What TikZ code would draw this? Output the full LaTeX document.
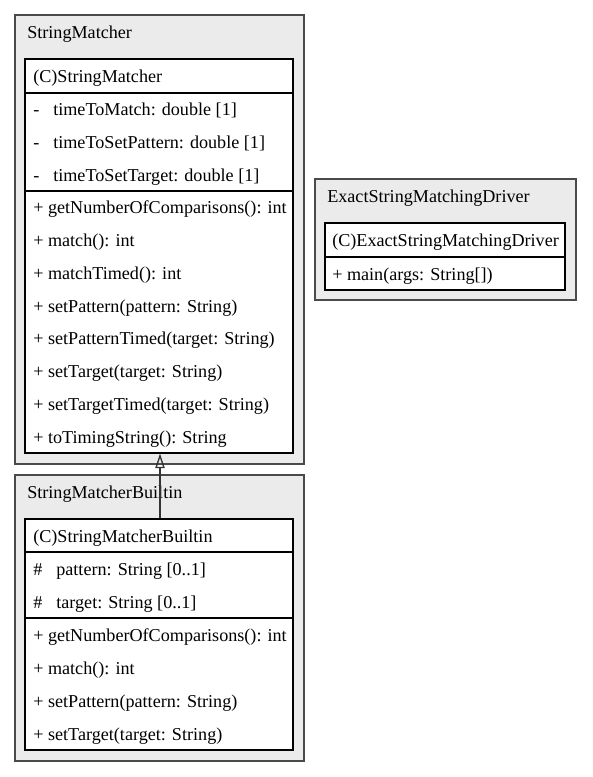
\documentclass[tikz,border=0pt]{standalone}
\usepackage{fontspec}
\setmainfont{Liberation Serif}
\usetikzlibrary{fit,arrows.meta}
\definecolor{clfill}{HTML}{EBEBEB}
\definecolor{clline}{HTML}{4A4A4A}
\definecolor{edgecol}{HTML}{333333}
\tikzset{
  cluster/.style={draw=clline, fill=clfill, line width=1.1pt, inner sep=0pt},
  classbox/.style={draw=black, fill=white, line width=0.8pt, inner sep=0pt},
  sepline/.style={draw=black, line width=0.8pt},
  txt/.style={anchor=base west, inner sep=0pt, font=\fontsize{13.6pt}{16pt}\selectfont},
  inherit/.style={draw=edgecol, line width=1pt, -{Triangle[open, length=11pt, width=7pt]}}
}
\begin{document}
\begin{tikzpicture}[x=0.75pt, y=-0.75pt]
\useasboundingbox (0,0) rectangle (592,777);
% clusters
\node[cluster, fit={(15,15) (304,464)}] (c1) {};
\node[cluster, fit={(15,475) (304,761)}] (c2) {};
\node[cluster, fit={(315,179) (576,300)}] (c3) {};
% class boxes
\node[classbox, fit={(25,59) (293,453)}] (sm) {};
\node[classbox, fit={(25,519) (293,750)}] (smb) {};
\node[classbox, fit={(325,223) (565,290)}] (esd) {};
% separators
\draw[sepline] (sm.west |- 0,93) -- (sm.east |- 0,93);
\draw[sepline] (sm.west |- 0,191) -- (sm.east |- 0,191);
\draw[sepline] (smb.west |- 0,552) -- (smb.east |- 0,552);
\draw[sepline] (smb.west |- 0,618) -- (smb.east |- 0,618);
\draw[sepline] (esd.west |- 0,257) -- (esd.east |- 0,257);
% cluster titles
\node[txt] (c1t) at (27,38.5) {StringMatcher};
\node[txt] (c2t) at (27,498) {StringMatcherBuiltin};
\node[txt] (c3t) at (327,202.5) {ExactStringMatchingDriver};
% StringMatcher
\node[txt] (a0) at (33,82.5) {(C)StringMatcher};
\node[txt] (a1) at (33,115.8) {-\hspace{10.5pt}timeToMatch: double [1]};
\node[txt] (a2) at (33,148.5) {-\hspace{10.5pt}timeToSetPattern: double [1]};
\node[txt] (a3) at (33,181.2) {-\hspace{10.5pt}timeToSetTarget: double [1]};
\node[txt] (a4) at (33,213.9) {+ getNumberOfComparisons(): int};
\node[txt] (a5) at (33,246.6) {+ match(): int};
\node[txt] (a6) at (33,279.4) {+ matchTimed(): int};
\node[txt] (a7) at (33,312.1) {+ setPattern(pattern: String)};
\node[txt] (a8) at (33,344.9) {+ setPatternTimed(target: String)};
\node[txt] (a9) at (33,377.6) {+ setTarget(target: String)};
\node[txt] (a10) at (33,410.4) {+ setTargetTimed(target: String)};
\node[txt] (a11) at (33,443.1) {+ toTimingString(): String};
% StringMatcherBuiltin
\node[txt] (b0) at (33,542) {(C)StringMatcherBuiltin};
\node[txt] (b1) at (33,575) {\#\hspace{10.5pt}pattern: String [0..1]};
\node[txt] (b2) at (33,608) {\#\hspace{10.5pt}target: String [0..1]};
\node[txt] (b3) at (33,641) {+ getNumberOfComparisons(): int};
\node[txt] (b4) at (33,674) {+ match(): int};
\node[txt] (b5) at (33,707) {+ setPattern(pattern: String)};
\node[txt] (b6) at (33,740) {+ setTarget(target: String)};
% ExactStringMatchingDriver
\node[txt] (d0) at (332,246.5) {(C)ExactStringMatchingDriver};
\node[txt] (d1) at (332,280) {+ main(args: String[])};
% inheritance
\draw[inherit] (smb.north -| 160,0) -- (sm.south -| 160,0);
\end{tikzpicture}
\end{document}
